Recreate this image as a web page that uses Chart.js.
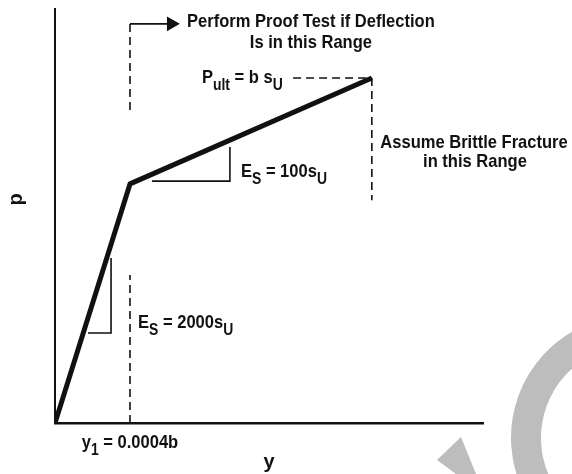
<!DOCTYPE html>
<html>
<head>
<meta charset="utf-8">
<script src="https://cdn.jsdelivr.net/npm/chart.js@4.4.1/dist/chart.umd.min.js"></script>
<style>
  html, body { margin: 0; padding: 0; background: #fff; }
  #wrap { width: 572px; height: 474px; }
</style>
</head>
<body>
<div id="wrap"><canvas id="chart" width="572" height="474"></canvas></div>
<script>
// p-y curve: deflection y in units of 0.0001b, load p in units of b*s_u (schematic)
const curveY = [0, 4, 16.9];
const curveP = [0, 0.693, 1.0];

// dashed guide lines
const proofLineY = [4, 4];
const proofLowP = [0, 0.429];
const proofHighP = [0.907, 1.157];
const arrowY = [4, 6.2];
const arrowP = [1.157, 1.157];
const ultLineY = [12.7, 16.9];
const ultLineP = [1.0, 1.0];
const brittleLineY = [16.9, 16.9];
const brittleLineP = [1.0, 0.646];

// slope triangles
const upperTriY = [5.17, 9.33, 9.33];
const upperTriP = [0.701, 0.701, 0.80];
const lowerTriY = [1.76, 2.99, 2.99];
const lowerTriP = [0.261, 0.261, 0.478];

// axes
const xTickValues = [4];
const xTickLabels = ['y_{1} = 0.0004b'];
const xTitle = 'y';
const yTitle = 'p';
const xMax = 22.83;
const yMax = 1.2;

// notes: text (_{} = subscript), anchor y, anchor p, align
const noteTexts = ['Perform Proof Test if Deflection', 'Is in this Range', 'P_{ult} = b s_{U}',
  'E_{S} = 100s_{U}', 'E_{S} = 2000s_{U}', 'Assume Brittle Fracture', 'in this Range'];
const noteY = [13.65, 13.65, 7.84, 9.92, 4.43, 22.35, 22.4];
const noteP = [1.148, 1.087, 0.986, 0.713, 0.275, 0.797, 0.742];
const noteAlign = ['center', 'center', 'left', 'left', 'left', 'center', 'center'];

const FAMILY = '"Liberation Sans", Arial, sans-serif';
const SIZE = 19;
const SQUEEZE = 0.87;   // the scan uses a condensed face
const INK = '#111';

function pts(xs, ps) {
  return xs.map((v, i) => ({ x: v, y: ps[i] }));
}

function drawRich(ctx, text, x, y, align) {
  const parts = text.split(/(_\{[^}]*\})/).filter(Boolean)
    .map(s => s.startsWith('_{') ? { t: s.slice(2, -1), sub: true } : { t: s, sub: false });
  const main = `bold ${SIZE}px ${FAMILY}`;
  const sub = `bold ${Math.round(SIZE * 0.84)}px ${FAMILY}`;
  let total = 0;
  parts.forEach(p => {
    ctx.font = p.sub ? sub : main;
    p.w = ctx.measureText(p.t).width;
    total += p.w;
  });
  const startX = align === 'center' ? x - total * SQUEEZE / 2 : x;
  ctx.save();
  ctx.translate(startX, y);
  ctx.scale(SQUEEZE, 1);
  ctx.textAlign = 'left';
  ctx.textBaseline = 'alphabetic';
  ctx.fillStyle = INK;
  let cx = 0;
  parts.forEach(p => {
    ctx.font = p.sub ? sub : main;
    ctx.fillText(p.t, cx, p.sub ? SIZE * 0.38 : 0);
    cx += p.w;
  });
  ctx.restore();
}

const notesPlugin = {
  id: 'notes',
  afterDraw(chart) {
    const { ctx } = chart;
    const sx = chart.scales.x, sy = chart.scales.y;
    ctx.save();
    noteTexts.forEach((t, i) => {
      drawRich(ctx, t, sx.getPixelForValue(noteY[i]), sy.getPixelForValue(noteP[i]), noteAlign[i]);
    });
    xTickValues.forEach((v, i) => {
      drawRich(ctx, xTickLabels[i], sx.getPixelForValue(v), sx.top + 25, 'center');
    });

    // grey watermark from the scanned page
    ctx.fillStyle = '#bdbdbd';
    ctx.strokeStyle = '#bdbdbd';
    ctx.lineWidth = 30;
    ctx.lineCap = 'butt';
    ctx.beginPath();
    ctx.arc(634, 438, 108, Math.PI * 0.86, Math.PI * 1.75);
    ctx.stroke();
    ctx.beginPath();
    ctx.moveTo(437, 460);
    ctx.lineTo(461, 437);
    ctx.lineTo(476, 474);
    ctx.lineTo(456, 474);
    ctx.closePath();
    ctx.fill();
    ctx.restore();
  }
};

const thin = { borderColor: INK, borderWidth: 1.6, pointRadius: 0, showLine: true, fill: false };
const dashed = Object.assign({}, thin, { borderDash: [8, 5] });

const titleFont = { family: FAMILY, size: 20, weight: 'bold' };

new Chart(document.getElementById('chart'), {
  type: 'scatter',
  data: {
    datasets: [
      Object.assign({}, dashed, { data: pts(proofLineY, proofLowP) }),
      Object.assign({}, dashed, { data: pts(proofLineY, proofHighP) }),
      Object.assign({}, thin, {
        data: pts(arrowY, arrowP),
        pointRadius: [0, 7],
        pointStyle: 'triangle',
        rotation: 90,
        pointBackgroundColor: INK,
        pointBorderColor: INK
      }),
      Object.assign({}, dashed, { data: pts(ultLineY, ultLineP) }),
      Object.assign({}, dashed, { data: pts(brittleLineY, brittleLineP) }),
      Object.assign({}, thin, { data: pts(upperTriY, upperTriP) }),
      Object.assign({}, thin, { data: pts(lowerTriY, lowerTriP) }),
      {
        data: pts(curveY, curveP),
        showLine: true,
        borderColor: INK,
        borderWidth: 5,
        borderJoinStyle: 'round',
        pointRadius: 0
      }
    ]
  },
  options: {
    responsive: false,
    animation: false,
    events: [],
    layout: { padding: { top: 9, right: 89, bottom: 0, left: 4 } },
    plugins: { legend: { display: false }, tooltip: { enabled: false } },
    scales: {
      x: {
        type: 'linear',
        min: 0,
        max: xMax,
        grid: { display: false, drawTicks: false },
        border: { display: true, color: INK, width: 2.5 },
        afterBuildTicks: s => { s.ticks = xTickValues.map(v => ({ value: v })); },
        ticks: { display: false },
        title: { display: true, text: xTitle, color: INK, font: titleFont, padding: { top: 0, bottom: 0 } },
        afterFit: s => { s.height = 51; }
      },
      y: {
        type: 'linear',
        min: 0,
        max: yMax,
        grid: { display: false, drawTicks: false },
        border: { display: true, color: INK, width: 2 },
        ticks: { display: false },
        title: { display: true, text: ' '.repeat(6) + yTitle, color: INK, font: titleFont, padding: { top: 0, bottom: 0 } },
        afterFit: s => { s.width = 51; }
      }
    }
  },
  plugins: [notesPlugin]
});
</script>
</body>
</html>
